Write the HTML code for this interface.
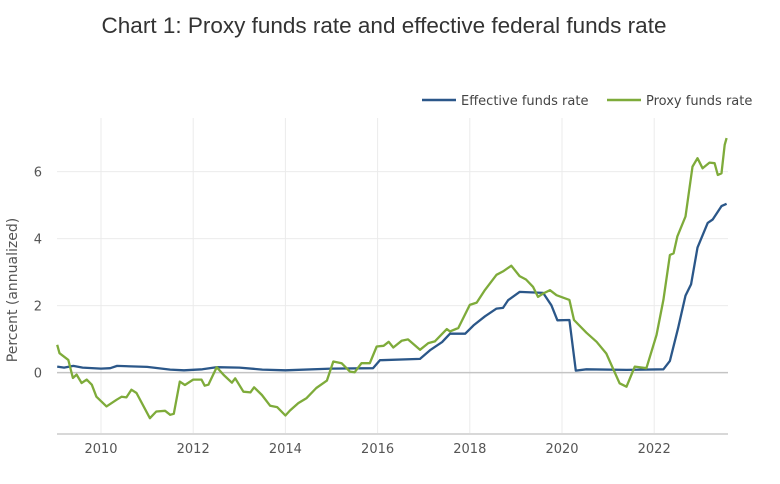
<!DOCTYPE html>
<html><head><meta charset="utf-8">
<style>
body{margin:0;background:#fff;width:780px;height:484px;overflow:hidden;font-family:"Liberation Sans",sans-serif}
svg{display:block}
.dv{font-family:"DejaVu Sans",sans-serif}
</style></head><body>
<svg id="chart" width="780" height="484">
<text x="384" y="33" text-anchor="middle" font-size="22.5" fill="#333">Chart 1: Proxy funds rate and effective federal funds rate</text>
<g class="dv">
<g><line x1="422" y1="100" x2="456" y2="100" stroke="#2b5789" stroke-width="2.5"/><text x="461" y="105" font-size="13" fill="#444">Effective funds rate</text></g>
<g><line x1="607" y1="100" x2="641" y2="100" stroke="#7eab3a" stroke-width="2.5"/><text x="646" y="105" font-size="13" fill="#444">Proxy funds rate</text></g>
</g>
<text class="dv" transform="translate(17,290) rotate(-90)" text-anchor="middle" font-size="14" fill="#555">Percent (annualized)</text>
<g id="grid" class="dv"></g><g id="series"></g>
</svg>
<script>
const xTicks=[2010,2012,2014,2016,2018,2020,2022];
const yTicks=[0,2,4,6];
const proxyDates=[2009.05,2009.1,2009.29,2009.39,2009.47,2009.58,2009.69,2009.8,2009.9,2010.12,2010.34,2010.45,2010.55,2010.66,2010.77,2011.06,2011.2,2011.39,2011.5,2011.58,2011.71,2011.82,2012.0,2012.18,2012.25,2012.33,2012.51,2012.66,2012.84,2012.91,2013.09,2013.24,2013.32,2013.49,2013.67,2013.82,2014.0,2014.1,2014.28,2014.46,2014.67,2014.9,2015.04,2015.22,2015.4,2015.5,2015.65,2015.83,2015.98,2016.13,2016.24,2016.34,2016.52,2016.66,2016.92,2017.1,2017.24,2017.5,2017.57,2017.75,2018.0,2018.15,2018.33,2018.58,2018.72,2018.9,2019.08,2019.22,2019.37,2019.48,2019.59,2019.74,2019.88,2020.16,2020.26,2020.53,2020.75,2020.96,2021.25,2021.4,2021.58,2021.83,2022.05,2022.2,2022.34,2022.42,2022.5,2022.68,2022.83,2022.94,2023.05,2023.2,2023.31,2023.38,2023.46,2023.53,2023.57];
const proxyValues=[0.83,0.58,0.38,-0.16,-0.06,-0.31,-0.21,-0.36,-0.72,-1.01,-0.81,-0.72,-0.74,-0.51,-0.61,-1.36,-1.16,-1.14,-1.26,-1.23,-0.27,-0.37,-0.21,-0.21,-0.39,-0.36,0.16,-0.07,-0.3,-0.17,-0.57,-0.59,-0.44,-0.67,-0.99,-1.03,-1.28,-1.13,-0.91,-0.76,-0.46,-0.24,0.33,0.28,0.03,0.01,0.28,0.28,0.78,0.8,0.92,0.75,0.95,0.99,0.68,0.88,0.93,1.3,1.23,1.33,2.02,2.09,2.47,2.92,3.02,3.19,2.88,2.78,2.56,2.26,2.36,2.46,2.31,2.17,1.57,1.19,0.92,0.57,-0.32,-0.42,0.18,0.13,1.12,2.17,3.51,3.56,4.06,4.66,6.15,6.4,6.1,6.27,6.25,5.9,5.95,6.8,7.0];
const effDates=[2009.05,2009.2,2009.4,2009.6,2010.0,2010.2,2010.35,2011.0,2011.5,2011.8,2012.2,2012.5,2013.0,2013.5,2014.0,2015.0,2015.9,2016.05,2016.92,2017.15,2017.4,2017.57,2017.9,2018.08,2018.33,2018.58,2018.72,2018.83,2019.08,2019.59,2019.77,2019.9,2020.16,2020.3,2020.53,2021.4,2022.2,2022.34,2022.52,2022.68,2022.8,2022.94,2023.16,2023.27,2023.46,2023.57];
const effValues=[0.18,0.15,0.2,0.15,0.12,0.13,0.2,0.17,0.09,0.07,0.1,0.16,0.15,0.09,0.07,0.12,0.13,0.37,0.41,0.68,0.91,1.16,1.16,1.41,1.68,1.91,1.93,2.16,2.41,2.38,2.01,1.56,1.57,0.06,0.1,0.08,0.1,0.35,1.34,2.3,2.64,3.73,4.47,4.57,4.97,5.04];
const X0=57,X1=728,Y0=434;
const xs=y=>101+(y-2010)*46.1;
const ys=v=>372.6-v*33.5;
const NS='http://www.w3.org/2000/svg';
const grid=document.getElementById('grid'),ser=document.getElementById('series');
function mk(tag,attrs,parent){const e=document.createElementNS(NS,tag);for(const k in attrs)e.setAttribute(k,attrs[k]);parent.appendChild(e);return e;}
xTicks.forEach(t=>{
 const l=mk('line',{x1:xs(t),x2:xs(t),y1:118,y2:Y0,stroke:'#ebebeb','stroke-width':1},grid);
 
 
 const tx=mk('text',{x:xs(t),y:453,'text-anchor':'middle','font-size':13,fill:'#555'},grid);
 tx.textContent=t;
 
 
});
yTicks.forEach(t=>{
 const l=mk('line',{x1:X0,x2:X1,y1:ys(t),y2:ys(t),stroke:t===0?'#c4c4c4':'#ebebeb','stroke-width':t===0?1.5:1},grid);
 
 
 const tx=mk('text',{x:42,y:ys(t)+5,'text-anchor':'end','font-size':13,fill:'#555'},grid);
 tx.textContent=t;
 
 
});
const ax=mk('line',{x1:X0,x2:X1,y1:Y0,y2:Y0,stroke:'#d8d8d8','stroke-width':2},grid);


function path(d,v){return d.map((x,i)=>(i?'L':'M')+xs(x).toFixed(1)+','+ys(v[i]).toFixed(1)).join('');}
const pe=mk('path',{d:path(effDates,effValues),fill:'none',stroke:'#2b5789','stroke-width':2.3,'stroke-linejoin':'round'},ser);


const pp=mk('path',{d:path(proxyDates,proxyValues),fill:'none',stroke:'#7eab3a','stroke-width':2.3,'stroke-linejoin':'round'},ser);


</script>
</body></html>
